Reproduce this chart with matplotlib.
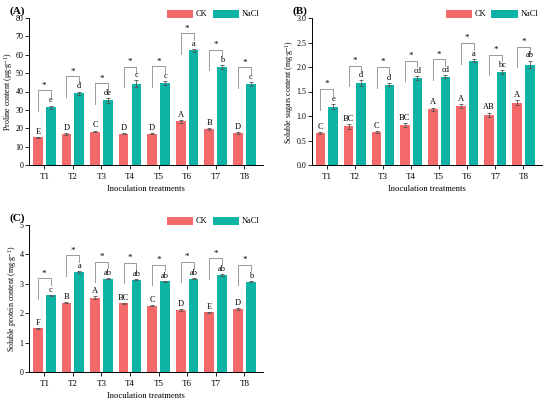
import matplotlib
matplotlib.use("Agg")
import matplotlib.pyplot as plt
import numpy as np

plt.rcParams['font.family'] = ['Liberation Serif', 'DejaVu Serif']
plt.rcParams['mathtext.default'] = 'regular'

categories = ["T1", "T2", "T3", "T4", "T5", "T6", "T7", "T8"]

# Panel A: Proline
a_ck = [15.0, 17.0, 18.2, 17.0, 17.0, 23.7, 19.5, 17.3]
a_ck_err = [0.4, 0.5, 0.5, 0.4, 0.4, 0.6, 0.6, 0.4]
a_nacl = [31.5, 39.0, 35.2, 44.2, 44.5, 62.5, 53.5, 44.0]
a_nacl_err = [0.8, 1.0, 1.2, 2.0, 1.2, 0.8, 1.0, 1.0]
a_ck_let = ["E", "D", "C", "D", "D", "A", "B", "D"]
a_nacl_let = ["e", "d", "de", "c", "c", "a", "b", "c"]

# Panel B: Soluble sugars
b_ck = [0.66, 0.79, 0.67, 0.82, 1.14, 1.20, 1.02, 1.27]
b_ck_err = [0.02, 0.05, 0.02, 0.04, 0.03, 0.04, 0.05, 0.05]
b_nacl = [1.19, 1.67, 1.64, 1.77, 1.80, 2.13, 1.89, 2.05]
b_nacl_err = [0.05, 0.06, 0.03, 0.04, 0.03, 0.03, 0.04, 0.08]
b_ck_let = ["C", "BC", "C", "BC", "A", "A", "AB", "A"]
b_nacl_let = ["e", "d", "d", "cd", "cd", "a", "bc", "ab"]

# Panel C: Soluble protein
c_ck = [1.48, 2.36, 2.53, 2.33, 2.25, 2.11, 2.03, 2.14]
c_ck_err = [0.02, 0.03, 0.04, 0.02, 0.02, 0.02, 0.02, 0.02]
c_nacl = [2.61, 3.40, 3.18, 3.14, 3.08, 3.17, 3.29, 3.07]
c_nacl_err = [0.02, 0.03, 0.02, 0.02, 0.02, 0.02, 0.03, 0.02]
c_ck_let = ["F", "B", "A", "BC", "C", "D", "E", "D"]
c_nacl_let = ["c", "a", "ab", "ab", "ab", "ab", "ab", "b"]

CK_COLOR = "#F46A6A"
NACL_COLOR = "#0DB3A5"

fig = plt.figure(figsize=(5.5, 4.0), dpi=100)


def panel(rect, ck, ck_err, nacl, nacl_err, ck_let, nacl_let,
          ymax, ystep, ylabel, tag, fmt, top_frac=0.115):
    ax = fig.add_axes(rect)
    x = np.arange(len(categories))
    w = 0.34
    off = 0.225
    ax.bar(x - off, ck, w, color=CK_COLOR, label="CK", zorder=2)
    ax.bar(x + off, nacl, w, color=NACL_COLOR, label="NaCl", zorder=2)
    ax.errorbar(x - off, ck, yerr=ck_err, fmt="none", ecolor="#555555",
                elinewidth=0.6, capsize=1.5, capthick=0.6, zorder=3)
    ax.errorbar(x + off, nacl, yerr=nacl_err, fmt="none", ecolor="#555555",
                elinewidth=0.6, capsize=1.5, capthick=0.6, zorder=3)
    r = ymax
    for i in range(len(categories)):
        ax.text(x[i] - off, ck[i] + ck_err[i] + 0.008 * r, ck_let[i],
                ha="center", va="bottom", fontsize=6)
        ax.text(x[i] + off, nacl[i] + nacl_err[i] + 0.008 * r, nacl_let[i],
                ha="center", va="bottom", fontsize=6)
        top = nacl[i] + top_frac * r
        lx = x[i] - off
        rx = x[i] + off
        ax.plot([lx, lx, rx, rx],
                [top - 0.14 * r, top, top, top - 0.045 * r],
                color="#8a8a8a", lw=0.6, zorder=1)
        ax.text(x[i], top + 0.005 * r, "*", ha="center", va="bottom",
                fontsize=6.5)
    ax.set_xlim(-0.53, 7.65)
    ax.set_ylim(0, ymax)
    ax.set_yticks(np.arange(0, ymax + ystep / 2, ystep))
    ax.yaxis.set_major_formatter(matplotlib.ticker.FormatStrFormatter(fmt))
    ax.set_xticks(x)
    ax.set_xticklabels(categories)
    ax.spines["top"].set_visible(False)
    ax.spines["right"].set_visible(False)
    for s in ("left", "bottom"):
        ax.spines[s].set_linewidth(0.7)
    ax.tick_params(axis="y", direction="out", length=3, width=0.6,
                   labelsize=5.8, pad=1)
    ax.tick_params(axis="x", direction="out", length=3, width=0.6,
                   labelsize=6.5, pad=2.5)
    ax.set_xlabel("Inoculation treatments", fontsize=6.2, labelpad=3)
    ax.set_ylabel(ylabel, fontsize=5.8, labelpad=0.5)
    ax.legend(loc="upper right", bbox_to_anchor=(1.0, 1.08), ncol=2,
              frameon=False, fontsize=6, handlelength=3.2, handleheight=1.1,
              columnspacing=0.6, handletextpad=0.3, borderaxespad=0)
    ax.text(-0.085, 1.045, tag, transform=ax.transAxes, fontsize=8,
            fontweight="bold", ha="left", va="center")
    return ax


panel([0.053, 0.5875, 0.425, 0.3675], a_ck, a_ck_err, a_nacl, a_nacl_err,
      a_ck_let, a_nacl_let, 80, 10,
      r"Proline content ($\mu$g$\cdot$g$^{-1}$)", "(A)", "%d")
panel([0.567, 0.5875, 0.418, 0.3675], b_ck, b_ck_err, b_nacl, b_nacl_err,
      b_ck_let, b_nacl_let, 3.0, 0.5,
      r"Soluble sugars content (mg$\cdot$g$^{-1}$)", "(B)", "%.1f", 0.12)
panel([0.053, 0.07, 0.425, 0.3675], c_ck, c_ck_err, c_nacl, c_nacl_err,
      c_ck_let, c_nacl_let, 5, 1,
      r"Soluble protein content (mg$\cdot$g$^{-1}$)", "(C)", "%d")

fig.savefig("out.png", dpi=100)
